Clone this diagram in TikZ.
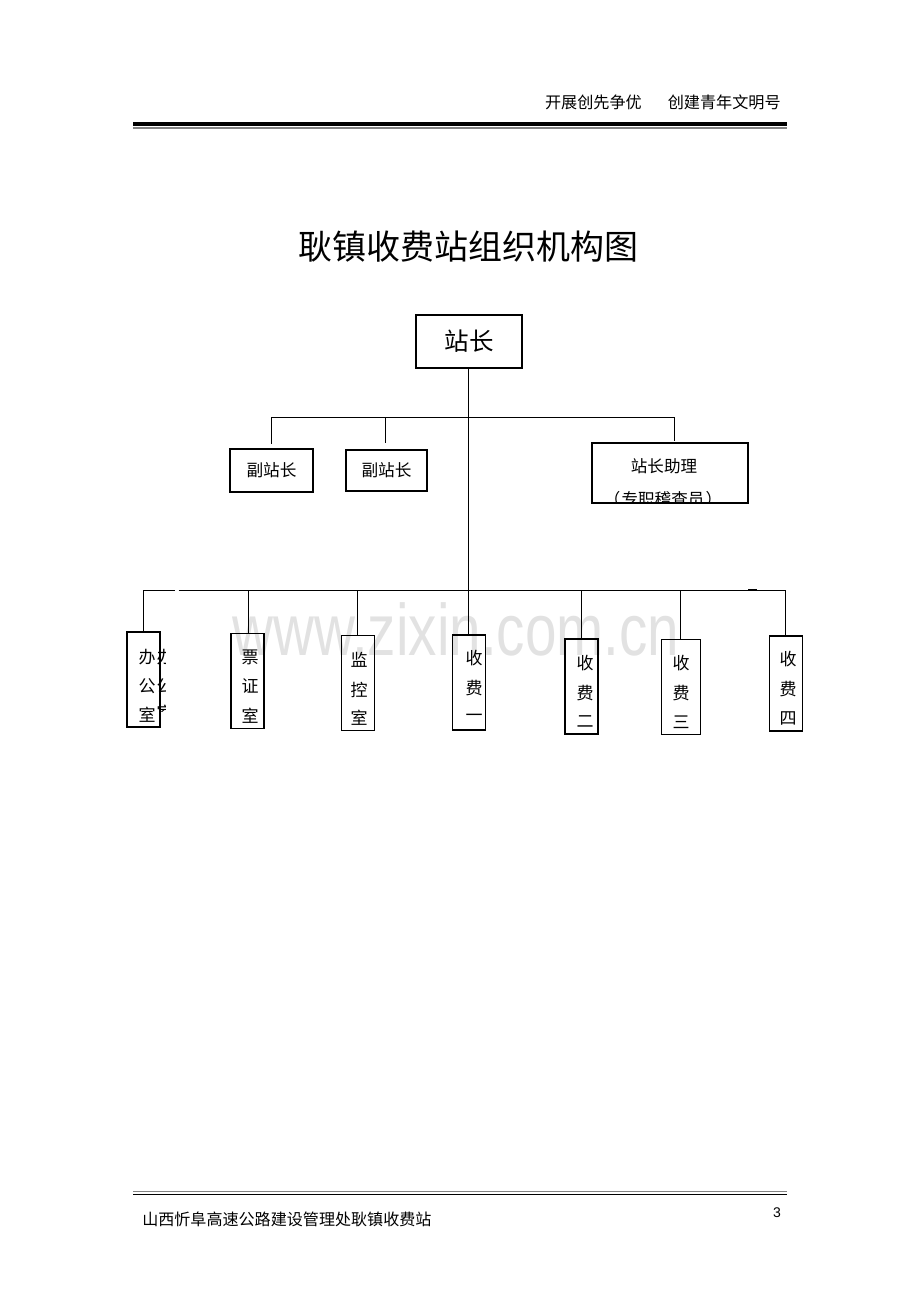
\documentclass[tikz,border=0pt]{standalone}
\usepackage{graphicx}
\usepackage{fontspec}
\setmainfont{Noto Sans CJK SC}
\newfontfamily\wmfont{Liberation Sans}
\definecolor{wmgray}{RGB}{226,226,226}
\definecolor{lgray}{RGB}{130,130,130}
\begin{document}
\begin{tikzpicture}[x=0.75pt,y=-0.75pt,
  box/.style={draw, line width=0.8pt, inner sep=0pt},
  vbox/.style={box, minimum width=24.75pt, minimum height=71.25pt},
  conn/.style={line width=0.75pt},
  ch/.style={inner sep=0pt, font=\fontsize{12.75}{14}\selectfont}]
\useasboundingbox (0,0) rectangle (920,1302);

% watermark
\node[wmgray, anchor=base, inner sep=0pt, font=\wmfont\fontsize{54.75}{60}\selectfont] (wm) at (456,655) {\scalebox{0.776}[1]{www.zixin.com.cn}};

% header
\node[anchor=east, inner sep=0pt, font=\fontsize{12.1}{14}\selectfont] (hdr) at (781,102) {开展创先争优\hspace{19.5pt}创建青年文明号};
\coordinate (hl1) at (133,124); \coordinate (hr1) at (787,124);
\coordinate (hl2) at (133,128); \coordinate (hr2) at (787,128);
\draw[line width=3pt] (hl1) -- (hr1);
\draw[lgray, line width=0.9pt] (hl2) -- (hr2);

% title
\node[inner sep=0pt, font=\fontsize{25.5}{30}\selectfont] (title) at (468,247) {耿镇收费站组织机构图};

% top level
\node[box, minimum width=79.5pt, minimum height=39.75pt, font=\fontsize{18.4}{20}\selectfont] (zz) at (469,341.5) {站长};
\node[box, minimum width=62.25pt, minimum height=32.25pt, font=\fontsize{12.5}{14}\selectfont] (fz1) at (271.5,470.5) {副站长};
\node[box, minimum width=60.75pt, minimum height=30.75pt, font=\fontsize{12.5}{14}\selectfont] (fz2) at (386.5,470.5) {副站长};
\node[box, minimum width=117pt, minimum height=45pt] (zl) at (670,473) {};
\node[inner sep=0pt, font=\fontsize{12.4}{14}\selectfont] (zlt) at (664,466) {站长助理};
\begin{scope}
  \clip (593,443) rectangle (747,502.3);
  \node[inner sep=0pt, font=\fontsize{12.4}{14}\selectfont] (zlt2) at (663,499.5) {（\hspace{1pt}专职稽查员\hspace{1pt}）};
\end{scope}

% bottom level boxes
\node[vbox] (bg) at (143.5,679.5) {};
\node[vbox] (pz) at (247.5,681) {};
\node[vbox] (jk) at (358,683) {};
\node[vbox] (s1) at (469,682.5) {};
\node[vbox] (s2) at (581.5,686.5) {};
\node[vbox, minimum width=29.25pt] (s3) at (681,687) {};
\node[vbox] (s4) at (786,683.5) {};

% box texts
\node[ch] (bg1) at (147,657) {办};
\node[ch] (bg2) at (147,686) {公};
\node[ch] (bg3) at (147,715) {室};
\begin{scope}
  \clip (156.5,640) rectangle (165,711);
  \node[ch] (bgg1) at (165,657) {办};
  \node[ch] (bgg2) at (165,686) {公};
  \node[ch] (bgg3) at (165,713) {室};
\end{scope}
\node[ch] (pz1) at (250,657) {票};
\node[ch] (pz2) at (250,686) {证};
\node[ch] (pz3) at (250,716) {室};
\node[ch] (jk1) at (359,660) {监};
\node[ch] (jk2) at (359,690) {控};
\node[ch] (jk3) at (359,718) {室};
\node[ch] (s11) at (474,658) {收};
\node[ch] (s12) at (474,688) {费};
\node[ch] (s13) at (474,718) {一};
\node[ch] (s21) at (585,663) {收};
\node[ch] (s22) at (585,693) {费};
\node[ch] (s23) at (585,722) {二};
\node[ch] (s31) at (681,663) {收};
\node[ch] (s32) at (681,693) {费};
\node[ch] (s33) at (681,722) {三};
\node[ch] (s41) at (788,659) {收};
\node[ch] (s42) at (788,689) {费};
\node[ch] (s43) at (788,718) {四};

% connectors: upper
\coordinate (a0) at (468,368);
\coordinate (a1) at (271,417);
\coordinate (a2) at (385,417);
\coordinate (a4) at (674,417);
\coordinate (d1) at (271,444);
\coordinate (d2) at (385,443);
\coordinate (d4) at (674,441);
\draw[conn] (a1) -- (a4);
\draw[conn] (a1) -- (d1);
\draw[conn] (a2) -- (d2);
\draw[conn] (a4) -- (d4);
\draw[conn] (zz.south -| a0) -- (a0 |- s1.north);

% connectors: lower
\coordinate (b0) at (143.5,590);
\coordinate (bgap1) at (175,590);
\coordinate (bgap2) at (178.5,590);
\coordinate (b7) at (785,590);
\coordinate (b2) at (248,590);
\coordinate (b3) at (357,590);
\coordinate (b5) at (581,590);
\coordinate (b6) at (680,590);
\draw[conn] (b0) -- (bgap1);
\draw[conn] (bgap2) -- (b7);
\draw[line width=1.3pt] (748,590) -- (757,590);
\draw[conn] (b0) -- (b0 |- bg.north);
\draw[conn] (b2) -- (b2 |- pz.north);
\draw[conn] (b3) -- (b3 |- jk.north);
\draw[conn] (b5) -- (b5 |- s2.north);
\draw[conn] (b6) -- (b6 |- s3.north);
\draw[conn] (b7) -- (b7 |- s4.north);

% footer
\coordinate (fl1) at (133,1191.5); \coordinate (fr1) at (787,1191.5);
\coordinate (fl2) at (133,1194); \coordinate (fr2) at (787,1194);
\draw[lgray, line width=1pt] (fl1) -- (fr1);
\draw[line width=0.6pt] (fl2) -- (fr2);
\node[anchor=west, inner sep=0pt, font=\fontsize{12.05}{13}\selectfont] (ftr) at (142,1219) {山西忻阜高速公路建设管理处耿镇收费站};
\node[inner sep=0pt, font=\wmfont\fontsize{10.5}{12}\selectfont] (pg) at (777,1213) {3};
\end{tikzpicture}
\end{document}
